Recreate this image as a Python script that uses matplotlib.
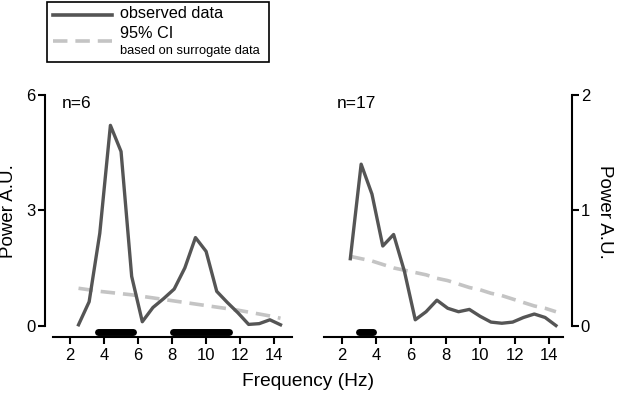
import numpy as np
import matplotlib
matplotlib.use("Agg")
import matplotlib.pyplot as plt
from matplotlib.lines import Line2D
from matplotlib.patches import Rectangle

plt.rcParams['font.family'] = ['Liberation Sans', 'DejaVu Sans']

freq = [2.5, 3.125, 3.75, 4.375, 5.0, 5.625, 6.25, 6.875, 7.5, 8.125,
        8.75, 9.375, 10.0, 10.625, 11.25, 11.875, 12.5, 13.125, 13.75, 14.375]

obs_left = [0.02, 0.62, 2.4, 5.21, 4.53, 1.28, 0.1, 0.47, 0.7, 0.95,
            1.5, 2.29, 1.93, 0.89, 0.6, 0.33, 0.03, 0.05, 0.15, 0.02]
ci_left = [0.97, 0.93, 0.89, 0.86, 0.83, 0.80, 0.76, 0.72, 0.68, 0.64,
           0.60, 0.56, 0.52, 0.48, 0.44, 0.40, 0.35, 0.30, 0.25, 0.19]

obs_right = [0.58, 1.40, 1.14, 0.69, 0.79, 0.47, 0.05, 0.12, 0.22, 0.15,
             0.12, 0.14, 0.08, 0.03, 0.02, 0.03, 0.07, 0.10, 0.07, 0.0]
ci_right = [0.60, 0.58, 0.56, 0.53, 0.50, 0.48, 0.46, 0.44, 0.41, 0.39,
            0.36, 0.33, 0.31, 0.28, 0.26, 0.23, 0.20, 0.17, 0.15, 0.12]

sig_left = [(3.67, 5.72), (8.04, 11.37)]
sig_right = [(3.02, 3.79)]

xticks = [2, 4, 6, 8, 10, 12, 14]
yticks_left = [0, 3, 6]
yticks_right = [0, 1, 2]

obs_color = '#555555'
ci_color = '#c4c4c4'

W, H = 617, 393
fig = plt.figure(figsize=(W / 100, H / 100), dpi=100)

def box(x0, x1, ytop, ybot):
    return [x0 / W, 1 - ybot / H, (x1 - x0) / W, (ybot - ytop) / H]

axL = fig.add_axes(box(53, 292, 95, 336.7))
axR = fig.add_axes(box(324, 563.3, 95, 336.7))

def style(ax, obs, ci, sig, ymax, yticks, side, xlim):
    ax.plot(freq, ci, color=ci_color, lw=2.6, dashes=(4, 2.2), solid_capstyle='butt', zorder=2)
    ax.plot(freq, obs, color=obs_color, lw=2.4, zorder=3)
    ybar = -0.16 * ymax / 6
    for a, b in sig:
        ax.plot([a, b], [ybar, ybar], color='black', lw=5, solid_capstyle='round', zorder=4)
    ax.set_xlim(*xlim)
    ax.set_ylim(-0.29 * ymax / 6, ymax)
    ax.set_xticks(xticks)
    ax.set_yticks(yticks)
    ax.patch.set_visible(False)
    for s in ['top', 'left', 'right']:
        ax.spines[s].set_visible(False)
    ax.spines['bottom'].set_linewidth(1.5)
    sp = ax.spines[side]
    sp.set_visible(True)
    sp.set_linewidth(1.5)
    sp.set_bounds(0, ymax)
    sp.set_position(('outward', 6))
    if side == 'right':
        ax.yaxis.tick_right()
        ax.yaxis.set_label_position('right')
    ax.tick_params(axis='both', width=1.5, length=5, labelsize=12, color='black')
    ax.tick_params(axis='x', pad=3)
    ax.tick_params(axis='y', pad=1.5)

style(axL, obs_left, ci_left, sig_left, 6, yticks_left, 'left', (1.0, 15.05))
style(axR, obs_right, ci_right, sig_right, 2, yticks_right, 'right', (0.98, 14.8))

fig.text(9 / W, 1 - 211 / H, 'Power A.U.', fontsize=13.5, rotation=90, ha='center', va='center')
fig.text(604 / W, 1 - 212 / H, 'Power A.U.', fontsize=13.5, rotation=-90, ha='center', va='center')

fig.text(62 / W, 1 - 103 / H, 'n=6', fontsize=12.5, va='center', ha='left')
fig.text(337 / W, 1 - 103 / H, 'n=17', fontsize=12.5, va='center', ha='left')

fig.text(308 / W, 1 - 381 / H, 'Frequency (Hz)', fontsize=13.8, ha='center', va='center')

# legend box
fig.patches.append(Rectangle((47 / W, 1 - 62 / H), (269 - 47) / W, (62 - 2) / H,
                             transform=fig.transFigure, fill=False, lw=1.2, ec='black'))
fig.lines.append(Line2D([53 / W, 112 / W], [1 - 15 / H, 1 - 15 / H], transform=fig.transFigure,
                        color=obs_color, lw=2.6))
fig.lines.append(Line2D([53 / W, 112 / W], [1 - 41 / H, 1 - 41 / H], transform=fig.transFigure,
                        color=ci_color, lw=2.6, dashes=(4, 2.2)))
fig.text(120 / W, 1 - 14 / H, 'observed data', fontsize=11.7, va='center', ha='left')
fig.text(120 / W, 1 - 33 / H, '95% CI', fontsize=11.7, va='center', ha='left')
fig.text(120 / W, 1 - 51 / H, 'based on surrogate data', fontsize=9.3, va='center', ha='left')

fig.savefig('out.png', dpi=100)
